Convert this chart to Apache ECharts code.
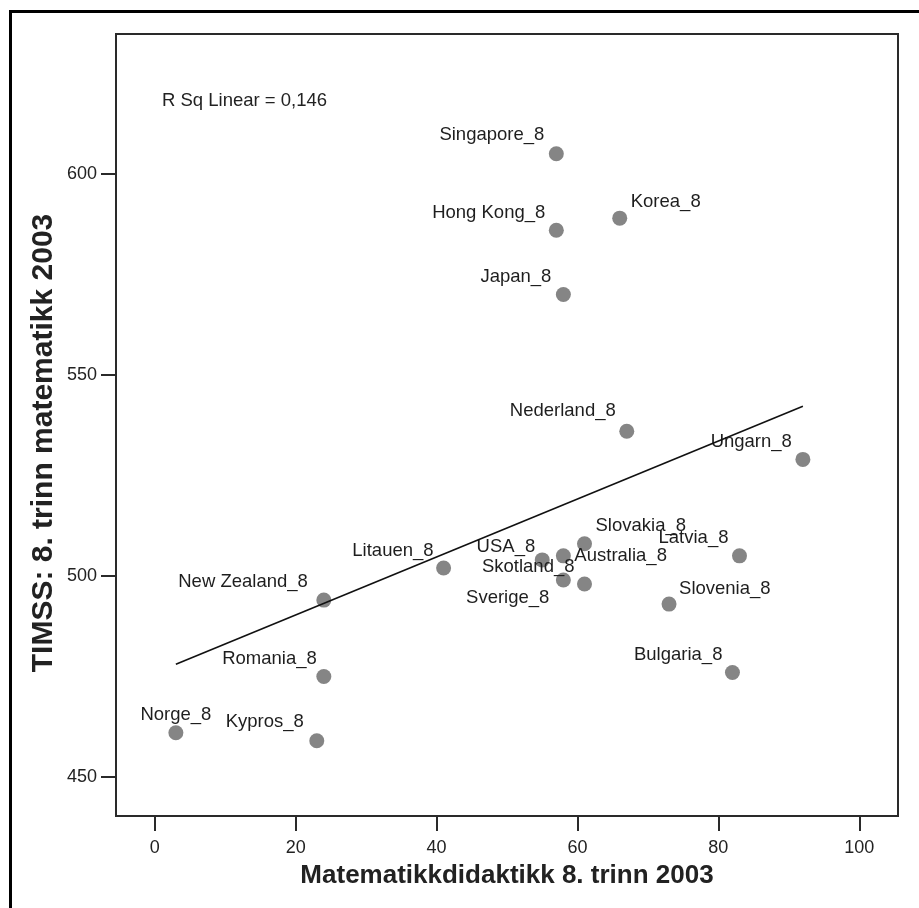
<!DOCTYPE html>
<html>
<head>
<meta charset="utf-8">
<script src="https://cdn.jsdelivr.net/npm/echarts@6/dist/echarts.min.js"></script>
<style>
html,body{margin:0;padding:0;background:#fff;}
#chart{width:919px;height:908px;}
</style>
</head>
<body>
<div id="chart"></div>
<script>
// ---- data ----
const countries = ['Singapore_8','Hong Kong_8','Korea_8','Japan_8','Nederland_8','Ungarn_8','Latvia_8','Slovenia_8','Bulgaria_8','Litauen_8','USA_8','Australia_8','Slovakia_8','Skotland_8','Sverige_8','New Zealand_8','Romania_8','Norge_8','Kypros_8'];
const didaktikk = [57, 57, 66, 58, 67, 92, 83, 73, 82, 41, 55, 58, 61, 61, 58, 24, 24, 3, 23];
const timss     = [605, 586, 589, 570, 536, 529, 505, 493, 476, 502, 504, 505, 508, 498, 499, 494, 475, 461, 459];
const xTicks = [0, 20, 40, 60, 80, 100];
const yTicks = [450, 500, 550, 600];
const rSqText = 'R Sq Linear = 0,146';
const xTitle = 'Matematikkdidaktikk 8. trinn 2003';
const yTitle = 'TIMSS: 8. trinn matematikk 2003';

// ---- label placement (layout only) ----
const labelPlace = {
  'Singapore_8': ['right', -12, -19],
  'Hong Kong_8': ['right', -11, -17],
  'Korea_8': ['left', 11, -16],
  'Japan_8': ['right', -12, -18],
  'Nederland_8': ['right', -11, -20],
  'Ungarn_8': ['right', -11, -17],
  'Latvia_8': ['right', -11, -18],
  'Slovenia_8': ['left', 10, -15],
  'Bulgaria_8': ['right', -10, -18],
  'Litauen_8': ['right', -10, -17],
  'USA_8': ['right', -7, -13],
  'Australia_8': ['left', 11, 0],
  'Slovakia_8': ['left', 11, -18],
  'Skotland_8': ['right', -10, -17],
  'Sverige_8': ['right', -14, 18],
  'New Zealand_8': ['right', -16, -18],
  'Romania_8': ['right', -7, -18],
  'Norge_8': ['center', 0, -18],
  'Kypros_8': ['right', -13, -19]
};

// least-squares fit line
const n = didaktikk.length;
const mx = didaktikk.reduce((a, b) => a + b, 0) / n;
const my = timss.reduce((a, b) => a + b, 0) / n;
let sxy = 0, sxx = 0;
for (let i = 0; i < n; i++) { sxy += (didaktikk[i] - mx) * (timss[i] - my); sxx += (didaktikk[i] - mx) ** 2; }
const slope = sxy / sxx, icpt = my - slope * mx;
const xMin = Math.min(...didaktikk), xMax = Math.max(...didaktikk);
const fitLine = [[xMin, icpt + slope * xMin], [xMax, icpt + slope * xMax]];

const FONT = '"Liberation Sans", Arial, Helvetica, sans-serif';
const points = countries.map((c, i) => {
  const p = labelPlace[c];
  return {
    name: c,
    value: [didaktikk[i], timss[i]],
    label: {
      show: true, position: 'inside', formatter: '{b}',
      align: p[0], verticalAlign: 'middle', offset: [p[1], p[2]],
      color: '#1e1e1e', fontFamily: FONT, fontSize: 18.5,
      textBorderWidth: 0, textBorderColor: 'transparent', opacity: 1
    }
  };
});

const chart = echarts.init(document.getElementById('chart'), null, { renderer: 'canvas' });
chart.setOption({
  animation: false,
  backgroundColor: '#ffffff',
  grid: { left: 116, top: 34, right: 21, bottom: 92, show: true, borderColor: '#2a2a2a', borderWidth: 2, containLabel: false },
  xAxis: {
    type: 'value', min: -5.5, max: 105.5,
    name: xTitle, nameLocation: 'middle', nameGap: 47,
    nameTextStyle: { fontFamily: FONT, fontSize: 26, fontWeight: 'bold', color: '#222' },
    axisLine: { show: true, onZero: false, lineStyle: { color: '#2a2a2a', width: 2 } },
    axisTick: { show: true, length: 15, lineStyle: { color: '#2a2a2a', width: 2 }, customValues: xTicks },
    axisLabel: { margin: 23, fontFamily: FONT, fontSize: 18, color: '#222', customValues: xTicks },
    splitLine: { show: false }
  },
  yAxis: {
    type: 'value', min: 440.3, max: 634.8,
    axisLine: { show: true, onZero: false, lineStyle: { color: '#2a2a2a', width: 2 } },
    axisTick: { show: true, length: 15, lineStyle: { color: '#2a2a2a', width: 2 }, customValues: yTicks },
    axisLabel: { margin: 19, fontFamily: FONT, fontSize: 18, color: '#222', customValues: yTicks },
    splitLine: { show: false }
  },
  graphic: [
    { type: 'rect', silent: true, shape: { x: 10.5, y: 11.5, width: 1200, height: 1200 }, style: { fill: 'none', stroke: '#000', lineWidth: 3 } },
    { type: 'text', left: 162, top: 91, style: { text: rSqText, font: '18.5px ' + FONT, fill: '#222' } },
    { type: 'text', x: 44, y: 443, rotation: Math.PI / 2, silent: true,
      style: { text: yTitle, font: 'bold 30px ' + FONT, fill: '#222', align: 'center', verticalAlign: 'middle' } }
  ],
  series: [
    {
      type: 'line', data: fitLine, symbol: 'none', silent: true,
      lineStyle: { color: '#111', width: 1.6 }, z: 3
    },
    {
      type: 'scatter', data: points, symbol: 'circle', symbolSize: 15,
      itemStyle: { color: '#858585', opacity: 1 },
      emphasis: { disabled: true },
      z: 2
    }
  ]
});
</script>
</body>
</html>
